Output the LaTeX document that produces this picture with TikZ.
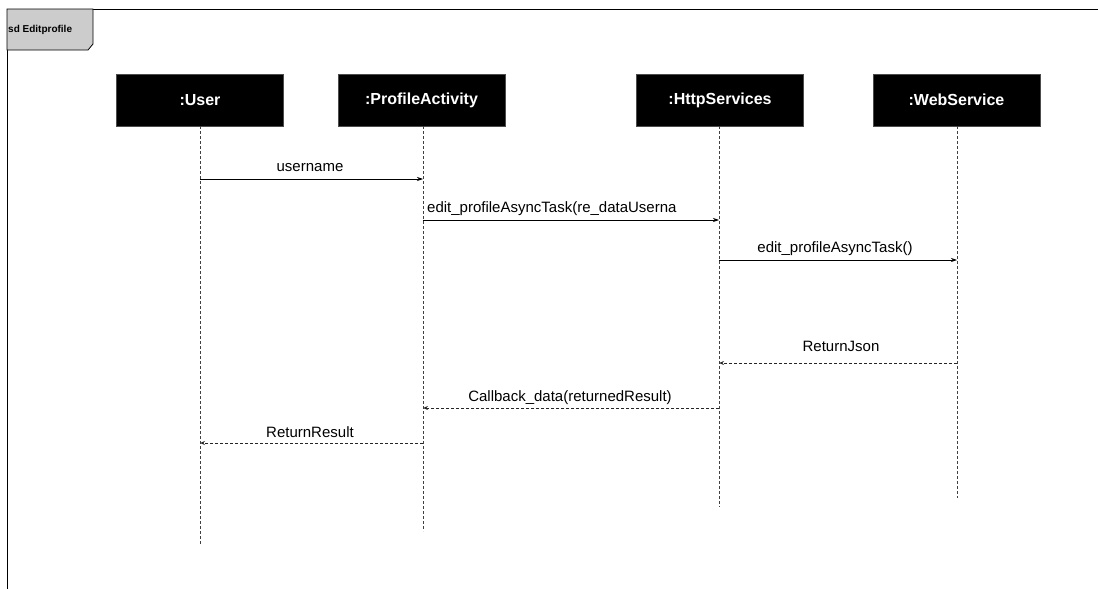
\documentclass[tikz,border=0pt]{standalone}
\usepackage{fontspec}
\setmainfont{Liberation Sans}
\usetikzlibrary{arrows.meta}
\begin{document}
\begin{tikzpicture}[x=1pt,y=-1pt,
  obj/.style={fill=black,draw=black!70,minimum width=167pt,minimum height=52pt,inner sep=0pt,text=white,font=\fontsize{16}{18}\selectfont\bfseries},
  life/.style={draw=black!75,dash pattern=on 3pt off 2pt,line width=0.8pt},
  msg/.style={draw=black,line width=0.7pt,-{Stealth[length=6pt,width=4pt]}},
  ret/.style={draw=black!85,line width=0.7pt,dash pattern=on 3pt off 2pt,-{Stealth[length=5pt,width=4pt,open]}},
  lbl/.style={font=\fontsize{15}{17}\selectfont,inner sep=0pt,anchor=base}]
\useasboundingbox (0,0) rectangle (1098,589);
% frame
\draw[black,line width=0.8pt] (7,589) -- (7,9) -- (1098,9);
\draw[black,line width=0.8pt,fill=black!20] (7,9) -- (93,9) -- (93,44) -- (88,50) -- (7,50) -- cycle;
\node[font=\fontsize{10}{12}\selectfont\bfseries,anchor=west,inner sep=0pt] (title) at (8,30) {sd Editprofile};
% objects
\node[obj] (u) at (200,100) {:User};
\node[obj] (p) at (421.5,100) {:ProfileActivity};
\node[obj] (h) at (720,100) {:HttpServices};
\node[obj] (w) at (956.5,100) {:WebService};
% lifeline ends
\coordinate (ue) at (200,545);
\coordinate (pe) at (423,531);
\coordinate (he) at (719,507);
\coordinate (we) at (957,498);
\draw[life] (u.south) -- (ue);
\draw[life] (423,126) -- (pe);
\draw[life] (719,126) -- (he);
\draw[life] (957,126) -- (we);
% message points
\coordinate (u1) at (200,179); \coordinate (p1) at (423,179);
\coordinate (p2) at (423,220); \coordinate (h2) at (719,220);
\coordinate (h3) at (719,260); \coordinate (w3) at (957,260);
\coordinate (w4) at (957,363); \coordinate (h4) at (719,363);
\coordinate (h5) at (719,408); \coordinate (p5) at (423,408);
\coordinate (p6) at (423,443); \coordinate (u6) at (200,443);
\draw[msg] (u1) -- (p1);
\draw[msg] (p2) -- (h2);
\draw[msg] (h3) -- (w3);
\draw[ret] (w4) -- (h4);
\draw[ret] (h5) -- (p5);
\draw[ret] (p6) -- (u6);
% labels
\node[lbl] (l1) at (310,171) {username};
\node[lbl,anchor=base west] (l2) at (427,212) {edit\_profileAsyncTask(re\_dataUserna};
\node[lbl] (l3) at (835,252) {edit\_profileAsyncTask()};
\node[lbl] (l4) at (841,351) {ReturnJson};
\node[lbl] (l5) at (570,401) {Callback\_data(returnedResult)};
\node[lbl] (l6) at (310,437) {ReturnResult};
\end{tikzpicture}
\end{document}
